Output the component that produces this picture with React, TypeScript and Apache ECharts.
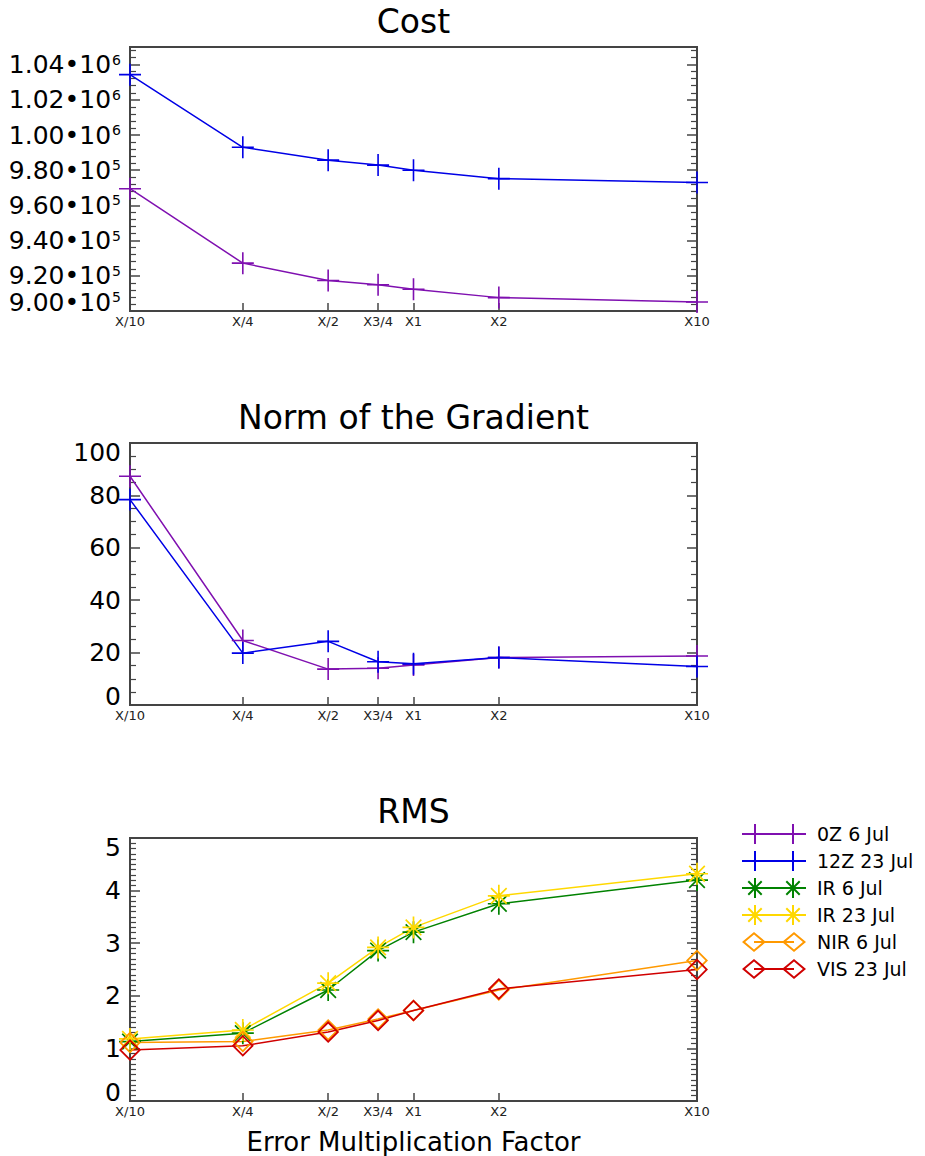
import React, { useEffect, useRef } from "react";
import * as echarts from "echarts";

// Error multiplication factors (x axis, logarithmic spacing)
const factors = [0.1, 0.25, 0.5, 0.75, 1, 2, 10];
const factorLabels = ["X/10", "X/4", "X/2", "X3/4", "X1", "X2", "X10"];

// Cost
const cost0Z = [969500, 927200, 917300, 914900, 912400, 907600, 905100];
const cost12Z = [1034300, 993000, 985700, 982900, 980000, 975200, 973000];

// Norm of the gradient
const norm0Z = [87.3, 24.6, 13.7, 14.0, 15.3, 18.1, 18.7];
const norm12Z = [78.4, 19.8, 24.3, 16.5, 15.7, 18.1, 14.7];

// RMS
const rmsIR6 = [1.13, 1.29, 2.11, 2.86, 3.21, 3.75, 4.2];
const rmsIR23 = [1.18, 1.35, 2.24, 2.92, 3.3, 3.9, 4.32];
const rmsNIR6 = [1.11, 1.13, 1.35, 1.56, 1.72, 2.11, 2.67];
const rmsVIS23 = [0.97, 1.05, 1.31, 1.53, 1.72, 2.13, 2.5];

const seriesNames = ["0Z 6 Jul", "12Z 23 Jul", "IR 6 Jul", "IR 23 Jul", "NIR 6 Jul", "VIS 23 Jul"];
const seriesColors = ["#7f10b0", "#0000e6", "#008200", "#ffd800", "#ff9900", "#d00000"];

const FONT = "DejaVu Sans";
const AXIS_COLOR = "#444";

// Marker shapes (filled outlines so they can be drawn as plain paths)
const PLUS_SYMBOL =
  "path://M10.2,0 L11.8,0 L11.8,10.2 L22,10.2 L22,11.8 L11.8,11.8 L11.8,22 L10.2,22 L10.2,11.8 L0,11.8 L0,10.2 L10.2,10.2 Z";

function starPath(cx: number, cy: number, r: number, d: number, t: number): string {
  const h = t / 2;
  const v = `M${cx - h},${cy - r} L${cx + h},${cy - r} L${cx + h},${cy + r} L${cx - h},${cy + r} Z`;
  const hz = `M${cx - r},${cy - h} L${cx + r},${cy - h} L${cx + r},${cy + h} L${cx - r},${cy + h} Z`;
  const a = d, b = d - t * 0.7;
  const d1 = `M${cx - a},${cy - b} L${cx - b},${cy - a} L${cx + a},${cy + b} L${cx + b},${cy + a} Z`;
  const d2 = `M${cx + b},${cy - a} L${cx + a},${cy - b} L${cx - b},${cy + a} L${cx - a},${cy + b} Z`;
  return `${v} ${hz} ${d1} ${d2}`;
}

function diamondPath(cx: number, cy: number, a: number, b: number, t: number): string {
  const len = Math.sqrt(a * a + b * b);
  const ia = a - (t * len) / b;
  const ib = b - (t * len) / a;
  const outer = `M${cx},${cy - b} L${cx + a},${cy} L${cx},${cy + b} L${cx - a},${cy} Z`;
  const inner = `M${cx},${cy - ib} L${cx - ia},${cy} L${cx},${cy + ib} L${cx + ia},${cy} Z`;
  return `${outer} ${inner}`;
}

const STAR_SYMBOL = "path://" + starPath(11, 11, 11, 8.4, 1.7);
const DIAMOND_SYMBOL = "path://" + diamondPath(11, 11, 11, 11, 1.8);

// Legend icons: a short line with a marker at each end (64 x 20 box)
const LINE_RECT = (x0: number, x1: number) => `M${x0},9 L${x1},9 L${x1},11 L${x0},11 Z`;
const PLUS_ICON =
  "path://" + LINE_RECT(0, 64) + " M12,0 L14,0 L14,20 L12,20 Z M50,0 L52,0 L52,20 L50,20 Z";
const STAR_ICON = "path://" + LINE_RECT(0, 64) + " " + starPath(13, 10, 10, 7.4, 2) + " " + starPath(51, 10, 10, 7.4, 2);
const DIAMOND_ICON =
  "path://" + LINE_RECT(12, 52) + " " + diamondPath(12, 10, 12, 10, 2) + " " + diamondPath(52, 10, 12, 10, 2);

const legendIcons = [PLUS_ICON, PLUS_ICON, STAR_ICON, STAR_ICON, DIAMOND_ICON, DIAMOND_ICON];

const xPos = factors.map((f) => Math.log10(f));

const gridBoxes = [
  { left: 130, top: 47, width: 567, height: 264 },
  { left: 130, top: 443, width: 567, height: 262 },
  { left: 130, top: 838, width: 567, height: 263 },
];

const panelTitles = [
  { text: "Cost", top: 4.5 },
  { text: "Norm of the Gradient", top: 401 },
  { text: "RMS", top: 795 },
];

function xLabel(v: number): string {
  const i = xPos.findIndex((p) => Math.abs(p - v) < 1e-6);
  return i >= 0 ? factorLabels[i] : "";
}

function sciLabel(v: number): string {
  const e = Math.floor(Math.log10(v) + 1e-9);
  const m = v / Math.pow(10, e);
  return `{m|${m.toFixed(2)}•10}{e|${e}}`;
}

function pairs(values: number[]): number[][] {
  return xPos.map((x, i) => [x, values[i]]);
}

const yScales = [
  { min: 900000, max: 1050000, interval: 20000, minor: 5 },
  { min: 0, max: 100, interval: 20, minor: 4 },
  { min: 0, max: 5, interval: 1, minor: 10 },
];

function buildOption() {
  const axisLine = { show: true, onZero: false, lineStyle: { color: AXIS_COLOR, width: 2 } };

  const xAxes = gridBoxes.map((_, i) => ({
    type: "value",
    gridIndex: i,
    min: -1,
    max: 1,
    axisLine,
    splitLine: { show: false },
    axisTick: {
      show: true,
      inside: true,
      length: 8,
      customValues: xPos,
      lineStyle: { color: AXIS_COLOR, width: 1.5 },
    },
    axisLabel: {
      customValues: xPos,
      formatter: xLabel,
      fontSize: 13,
      fontFamily: FONT,
      color: "#222",
      margin: 4,
    },
    ...(i === 2
      ? {
          name: "Error Multiplication Factor",
          nameLocation: "middle",
          nameGap: 28,
          nameTextStyle: { fontSize: 26, fontFamily: FONT, color: "#000", lineHeight: 26 },
        }
      : {}),
  }));

  const leftY = yScales.map((s, i) => ({
    type: "value",
    gridIndex: i,
    position: "left",
    min: s.min,
    max: s.max,
    interval: s.interval,
    axisLine,
    splitLine: { show: false },
    axisTick: { show: true, inside: true, length: 10, lineStyle: { color: AXIS_COLOR, width: 1.5 } },
    minorTick: { show: true, splitNumber: s.minor, length: 6, lineStyle: { color: AXIS_COLOR, width: 1.2 } },
    axisLabel: {
      fontSize: 25,
      lineHeight: 18,
      fontFamily: FONT,
      color: "#000",
      margin: 9,
      showMinLabel: true,
      showMaxLabel: i !== 0,
      verticalAlignMinLabel: "bottom",
      verticalAlignMaxLabel: i === 0 ? undefined : "top",
      ...(i === 0
        ? {
            formatter: sciLabel,
            rich: {
              m: { fontSize: 25, fontFamily: FONT, color: "#000", lineHeight: 18 },
              // exponent: small text lifted by bottom padding
              e: { fontSize: 14, fontFamily: FONT, color: "#000", lineHeight: 8, padding: [0, 0, 10, 1] },
            },
          }
        : {}),
    },
  }));

  const rightY = yScales.map((s, i) => ({
    type: "value",
    gridIndex: i,
    position: "right",
    min: s.min,
    max: s.max,
    interval: s.interval,
    axisLine,
    splitLine: { show: false },
    axisTick: { show: true, inside: true, length: 10, lineStyle: { color: AXIS_COLOR, width: 1.5 } },
    minorTick: { show: true, splitNumber: s.minor, length: 6, lineStyle: { color: AXIS_COLOR, width: 1.2 } },
    axisLabel: { show: false },
  }));

  const line = (name: string, values: number[], grid: number, symbol: string) => {
    const color = seriesColors[seriesNames.indexOf(name)];
    return {
      type: "line",
      name,
      xAxisIndex: grid,
      yAxisIndex: grid,
      data: pairs(values),
      symbol,
      symbolSize: 22,
      showSymbol: true,
      color,
      itemStyle: { color, borderWidth: 0 },
      lineStyle: { color, width: 1.5 },
      emphasis: { disabled: true },
    };
  };

  return {
    animation: false,
    backgroundColor: "#fff",
    title: panelTitles.map((t) => ({
      text: t.text,
      left: 413.5,
      top: t.top,
      textAlign: "center",
      padding: 0,
      textStyle: { fontSize: 33, fontWeight: "normal", fontFamily: FONT, color: "#000", lineHeight: 33 },
    })),
    legend: {
      orient: "vertical",
      left: 737,
      top: 819,
      itemWidth: 64,
      itemHeight: 20,
      itemGap: 7,
      selectedMode: false,
      textStyle: { fontSize: 19, fontFamily: FONT, color: "#000", padding: [0, 0, 0, 6] },
      data: seriesNames.map((n, i) => ({
        name: n,
        icon: legendIcons[i],
        itemStyle: { color: seriesColors[i], borderWidth: 0 },
      })),
    },
    grid: gridBoxes.map((g) => ({
      ...g,
      show: true,
      borderColor: AXIS_COLOR,
      borderWidth: 2,
      backgroundColor: "transparent",
      containLabel: false,
    })),
    xAxis: xAxes,
    yAxis: [...leftY, ...rightY],
    series: [
      line("0Z 6 Jul", cost0Z, 0, PLUS_SYMBOL),
      line("12Z 23 Jul", cost12Z, 0, PLUS_SYMBOL),
      line("0Z 6 Jul", norm0Z, 1, PLUS_SYMBOL),
      line("12Z 23 Jul", norm12Z, 1, PLUS_SYMBOL),
      line("IR 6 Jul", rmsIR6, 2, STAR_SYMBOL),
      line("IR 23 Jul", rmsIR23, 2, STAR_SYMBOL),
      line("NIR 6 Jul", rmsNIR6, 2, DIAMOND_SYMBOL),
      line("VIS 23 Jul", rmsVIS23, 2, DIAMOND_SYMBOL),
    ],
  };
}

export default function App() {
  const ref = useRef<HTMLDivElement>(null);

  useEffect(() => {
    if (!ref.current) return;
    const chart = echarts.init(ref.current, undefined, { renderer: "svg" });
    chart.setOption(buildOption() as any);
    return () => chart.dispose();
  }, []);

  return (
    <div
      ref={ref}
      style={{ position: "absolute", left: 0, top: 0, width: 925, height: 1156, background: "#fff" }}
    />
  );
}
